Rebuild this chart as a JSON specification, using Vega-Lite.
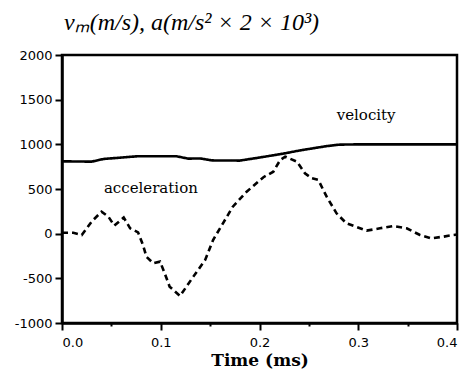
{
  "$schema": "https://vega.github.io/schema/vega-lite/v6.json",
  "width": 395,
  "height": 268,
  "autosize": {"type": "none"},
  "padding": {"left": 62, "top": 55, "right": 12, "bottom": 46},
  "background": "white",
  "config": {
    "view": {"stroke": "black", "strokeWidth": 2.5},
    "axis": {"grid": false, "domainColor": "black", "tickColor": "black", "labelColor": "black", "titleColor": "black", "domainWidth": 2.5, "tickWidth": 2}
  },
  "title": {
    "text": "vₘ(m/s), a(m/s² × 2 × 10³)",
    "anchor": "start",
    "frame": "group",
    "dx": 2,
    "offset": 14,
    "font": "Liberation Serif",
    "fontStyle": "italic",
    "fontWeight": "normal",
    "fontSize": 24,
    "color": "black"
  },
  "datasets": {
    "curves": [
      {"t": 0.0, "v": 810, "s": "velocity"},
      {"t": 0.03, "v": 806, "s": "velocity"},
      {"t": 0.042, "v": 836, "s": "velocity"},
      {"t": 0.076, "v": 866, "s": "velocity"},
      {"t": 0.116, "v": 866, "s": "velocity"},
      {"t": 0.128, "v": 840, "s": "velocity"},
      {"t": 0.14, "v": 842, "s": "velocity"},
      {"t": 0.152, "v": 820, "s": "velocity"},
      {"t": 0.18, "v": 818, "s": "velocity"},
      {"t": 0.2, "v": 852, "s": "velocity"},
      {"t": 0.224, "v": 896, "s": "velocity"},
      {"t": 0.241, "v": 932, "s": "velocity"},
      {"t": 0.268, "v": 980, "s": "velocity"},
      {"t": 0.28, "v": 996, "s": "velocity"},
      {"t": 0.3, "v": 1000, "s": "velocity"},
      {"t": 0.4, "v": 1000, "s": "velocity"},
      {"t": 0.0, "v": 10, "s": "acceleration"},
      {"t": 0.0115, "v": 10, "s": "acceleration"},
      {"t": 0.02, "v": -15, "s": "acceleration"},
      {"t": 0.03, "v": 135, "s": "acceleration"},
      {"t": 0.04, "v": 246, "s": "acceleration"},
      {"t": 0.047, "v": 190, "s": "acceleration"},
      {"t": 0.053, "v": 90, "s": "acceleration"},
      {"t": 0.0625, "v": 180, "s": "acceleration"},
      {"t": 0.069, "v": 60, "s": "acceleration"},
      {"t": 0.077, "v": 15, "s": "acceleration"},
      {"t": 0.082, "v": -127, "s": "acceleration"},
      {"t": 0.0855, "v": -258, "s": "acceleration"},
      {"t": 0.0925, "v": -332, "s": "acceleration"},
      {"t": 0.0993, "v": -313, "s": "acceleration"},
      {"t": 0.104, "v": -443, "s": "acceleration"},
      {"t": 0.109, "v": -593, "s": "acceleration"},
      {"t": 0.1195, "v": -698, "s": "acceleration"},
      {"t": 0.133, "v": -481, "s": "acceleration"},
      {"t": 0.145, "v": -294, "s": "acceleration"},
      {"t": 0.153, "v": -71, "s": "acceleration"},
      {"t": 0.163, "v": 116, "s": "acceleration"},
      {"t": 0.173, "v": 302, "s": "acceleration"},
      {"t": 0.187, "v": 470, "s": "acceleration"},
      {"t": 0.204, "v": 632, "s": "acceleration"},
      {"t": 0.214, "v": 694, "s": "acceleration"},
      {"t": 0.221, "v": 825, "s": "acceleration"},
      {"t": 0.226, "v": 862, "s": "acceleration"},
      {"t": 0.238, "v": 806, "s": "acceleration"},
      {"t": 0.246, "v": 676, "s": "acceleration"},
      {"t": 0.253, "v": 620, "s": "acceleration"},
      {"t": 0.2596, "v": 601, "s": "acceleration"},
      {"t": 0.268, "v": 414, "s": "acceleration"},
      {"t": 0.278, "v": 228, "s": "acceleration"},
      {"t": 0.288, "v": 116, "s": "acceleration"},
      {"t": 0.3085, "v": 34, "s": "acceleration"},
      {"t": 0.322, "v": 60, "s": "acceleration"},
      {"t": 0.3355, "v": 86, "s": "acceleration"},
      {"t": 0.349, "v": 60, "s": "acceleration"},
      {"t": 0.3625, "v": -15, "s": "acceleration"},
      {"t": 0.374, "v": -52, "s": "acceleration"},
      {"t": 0.386, "v": -34, "s": "acceleration"},
      {"t": 0.396, "v": -15, "s": "acceleration"},
      {"t": 0.4, "v": -10, "s": "acceleration"}
    ],
    "labels": [
      {"t": 0.308, "v": 1330, "label": "velocity"},
      {"t": 0.09, "v": 515, "label": "acceleration"}
    ]
  },
  "layer": [
    {
      "data": {"name": "curves"},
      "mark": {"type": "line", "color": "black", "strokeWidth": 2.6, "clip": true},
      "encoding": {
        "x": {
          "field": "t", "type": "quantitative",
          "scale": {"domain": [0, 0.4], "nice": false, "zero": false},
          "axis": {
            "title": "Time (ms)",
            "titleFont": "DejaVu Serif", "titleFontSize": 17, "titleFontWeight": "bold", "titlePadding": 3,
            "values": [0, 0.05, 0.1, 0.15, 0.2, 0.25, 0.3, 0.35, 0.4],
            "labelExpr": "(round(datum.value*100) % 10 === 0) ? format(datum.value, '.1f') : ''",
            "labelFont": "DejaVu Sans", "labelFontSize": 13, "labelPadding": 6,
            "tickSize": {"condition": {"test": "round(datum.value*100) % 10 !== 0", "value": 3}, "value": 7},
            "labelOverlap": false
          }
        },
        "y": {
          "field": "v", "type": "quantitative",
          "scale": {"domain": [-1000, 2000], "nice": false, "zero": false},
          "axis": {
            "title": null,
            "values": [-1000, -750, -500, -250, 0, 250, 500, 750, 1000, 1250, 1500, 1750, 2000],
            "labelExpr": "(datum.value % 500 === 0) ? datum.value : ''",
            "labelFont": "DejaVu Sans", "labelFontSize": 13, "labelPadding": 3,
            "tickSize": {"condition": {"test": "datum.value % 500 !== 0", "value": 3}, "value": 7},
            "labelOverlap": false
          }
        },
        "detail": {"field": "s", "type": "nominal"},
        "strokeDash": {
          "field": "s", "type": "nominal",
          "scale": {"domain": ["velocity", "acceleration"], "range": [[1, 0], [6, 4]]},
          "legend": null
        }
      }
    },
    {
      "data": {"name": "labels"},
      "mark": {"type": "text", "font": "DejaVu Serif", "fontSize": 15, "color": "black", "align": "center", "baseline": "middle"},
      "encoding": {
        "x": {"field": "t", "type": "quantitative"},
        "y": {"field": "v", "type": "quantitative"},
        "text": {"field": "label", "type": "nominal"}
      }
    }
  ]
}
